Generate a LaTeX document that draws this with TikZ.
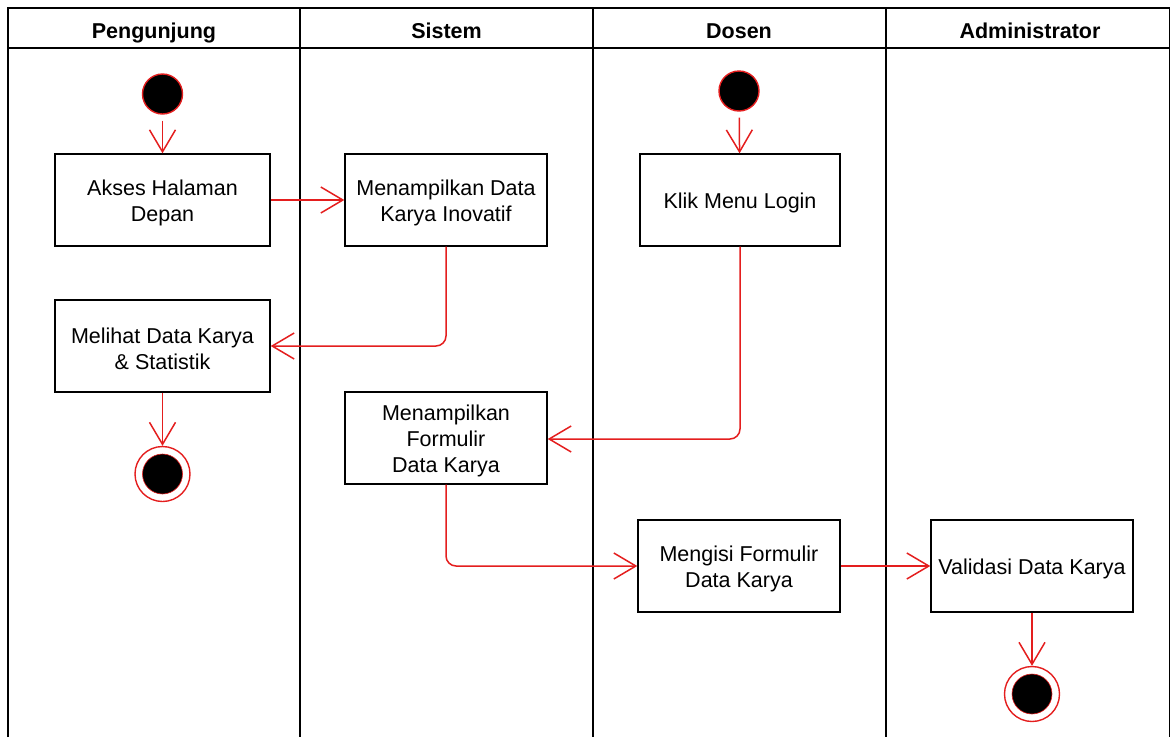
\documentclass[tikz,border=0pt]{standalone}
\usepackage{fontspec}
\setmainfont{Liberation Sans}
\usetikzlibrary{arrows.meta}
\definecolor{edgered}{RGB}{228,30,30}
\tikzset{
  lane/.style={draw=black, line width=1.5pt},
  act/.style={draw=black, line width=1.4pt, fill=white, minimum width=202pt, minimum height=92pt, align=center, inner sep=2pt, font=\fontsize{21.5}{26}\selectfont},
  acttext/.style={align=center, inner sep=0pt, font=\fontsize{21.5}{26}\selectfont, yshift=-3pt},
  hdr/.style={font=\fontsize{21.5}{26}\selectfont\bfseries, text height=15.5pt, text depth=4.5pt},
  startnode/.style={circle, draw=edgered, fill=black, line width=1.4pt, minimum size=40pt, inner sep=0pt},
  endouter/.style={circle, draw=edgered, line width=1.4pt, minimum size=55pt, inner sep=0pt},
  endinner/.style={circle, fill=black, draw=edgered, line width=0.6pt, minimum size=40pt, inner sep=0pt},
  flow/.style={draw=edgered, line width=1.5pt, rounded corners=10pt, -{Straight Barb[length=22pt,width=26pt,line width=1.5pt]}}
}
\begin{document}
\begin{tikzpicture}[x=1pt,y=-1pt]
\useasboundingbox (0,0) rectangle (1171,737);
% swimlanes
\draw[lane] (8,737) -- (8,8) -- (1169.5,8) -- (1169.5,737);
\draw[lane] (8,48) -- (1169.5,48);
\draw[lane] (300,8) -- (300,737);
\draw[lane] (593,8) -- (593,737);
\draw[lane] (886,8) -- (886,737);
\node[hdr] (h1) at (154,33) {Pengunjung};
\node[hdr] (h2) at (446.5,33) {Sistem};
\node[hdr] (h3) at (739,33) {Dosen};
\node[hdr] (h4) at (1030,33) {Administrator};
% nodes
\node[startnode] (s1) at (162.5,94) {};
\node[startnode] (s2) at (739,91) {};
\node[act, minimum width=215pt] (a1) at (162.5,200) {};
\node[acttext] (t1) at (a1.center) {Akses Halaman\\Depan};
\node[act] (a2) at (446,200) {};
\node[acttext] (t2) at (a2.center) {Menampilkan Data\\Karya Inovatif};
\node[act, minimum width=200pt] (a3) at (740,200) {};
\node[acttext] (t3) at (a3.center) {Klik Menu Login};
\node[act, minimum width=215pt] (a4) at (162.5,346) {};
\node[acttext] (t4) at (a4.center) {Melihat Data Karya\\\& Statistik};
\node[act] (a5) at (446,438) {};
\node[acttext] (t5) at (a5.center) {Menampilkan\\Formulir\\Data Karya};
\node[act] (a6) at (739,566) {};
\node[acttext] (t6) at (a6.center) {Mengisi Formulir\\Data Karya};
\node[act] (a7) at (1032,566) {};
\node[acttext] (t7) at (a7.center) {Validasi Data Karya};
\node[endouter] (e1) at (162.5,474) {};
\node[endinner] (e1i) at (e1.center) {};
\node[endouter] (e2) at (1032,694) {};
\node[endinner] (e2i) at (e2.center) {};
% edges
\draw[flow, shorten <=6pt] (s1) -- (a1);
\draw[flow, shorten <=6pt] (s2) -- (a3);
\draw[flow] (a1) -- (a2);
\draw[flow] (a2.south) |- (a4.east);
\draw[flow] (a4) -- (e1);
\draw[flow] (a3.south) |- ([yshift=-1pt]a5.east);
\draw[flow] (a5.south) |- (a6.west);
\draw[flow] (a6) -- (a7);
\draw[flow] (a7) -- (e2);
\end{tikzpicture}
\end{document}
